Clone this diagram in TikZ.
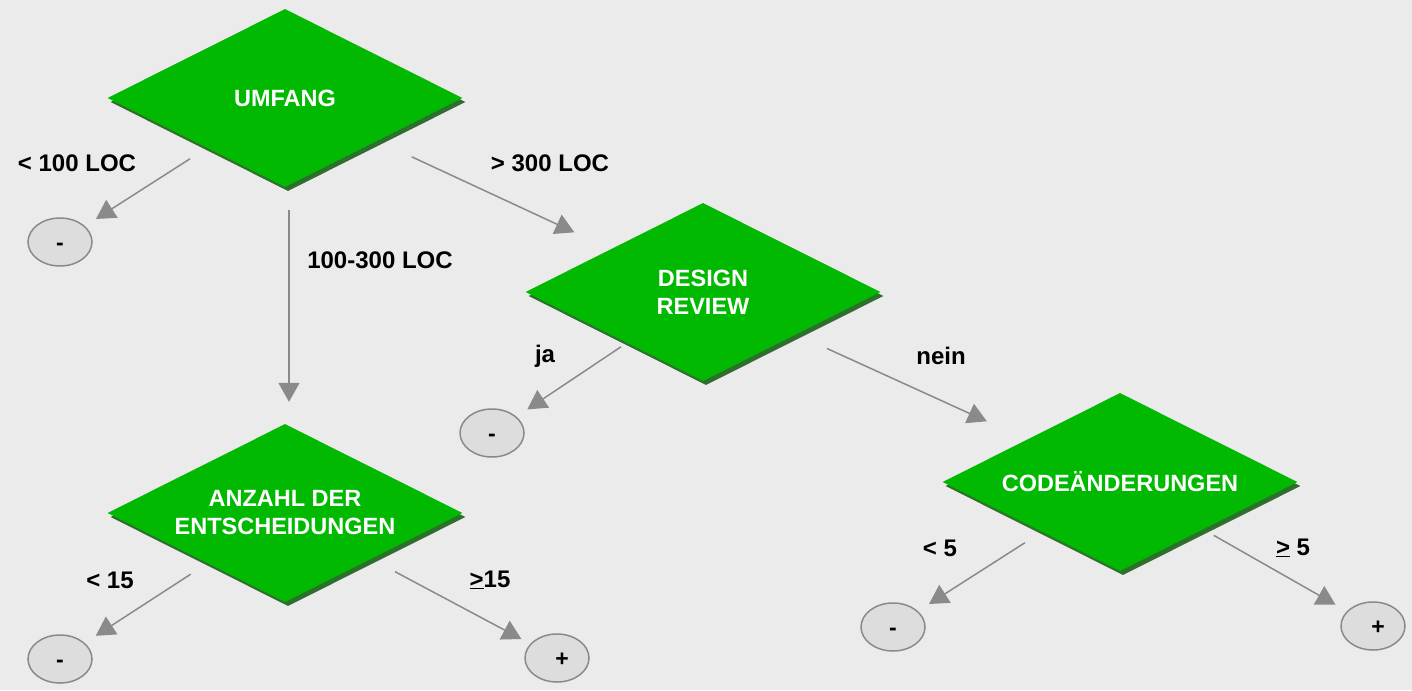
\documentclass[tikz,border=0pt]{standalone}
\usepackage{fontspec}
\setmainfont{Liberation Sans}
\usetikzlibrary{shapes.geometric,arrows.meta,shadows}
\definecolor{bggrey}{RGB}{235,235,235}
\definecolor{leafgreen}{RGB}{0,185,0}
\definecolor{darkgreen}{RGB}{45,112,45}
\definecolor{leafgrey}{RGB}{221,221,221}
\definecolor{linegrey}{RGB}{138,138,138}
\tikzset{
	green node/.style={diamond, aspect=2, fill=leafgreen, minimum width=355pt, minimum height=178pt, inner sep=0, text=white, align=center, font=\fontsize{23.5}{28}\selectfont\bfseries, drop shadow={shadow xshift=3pt, shadow yshift=-4pt, fill=darkgreen, opacity=1}},
	grey node/.style={ellipse, draw=linegrey, line width=1.5pt, fill=leafgrey, minimum width=64pt, minimum height=48pt, inner sep=0, text height=17pt, text depth=0pt, font=\fontsize{23}{28}\selectfont\bfseries},
	branch/.style={draw=linegrey, line width=1.5pt, -{Triangle[length=19pt,width=21pt]}},
	branch label/.style={font=\fontsize{24}{28}\selectfont\bfseries},
}
\begin{document}
\begin{tikzpicture}[x=1pt, y=-1pt]
  \path[fill=bggrey, use as bounding box] (0,0) rectangle (1412,690);

  % decisions
  \node[green node] (umfang) at (285,98) {UMFANG};
  \node[green node] (design) at (703,292) {DESIGN\\REVIEW};
  \node[green node] (anzahl) at (285,513) {ANZAHL DER\\ENTSCHEIDUNGEN};
  \node[green node] (code) at (1120,482) {CODE\"ANDERUNGEN};

  % leaves
  \node[grey node] (klein) at (60,242) {-};
  \node[grey node] (reviewja) at (492,433) {-};
  \node[grey node] (wenige) at (60,659) {-};
  \node[grey node] (viele) at (557,658) {\hspace*{10pt}+};
  \node[grey node] (codeklein) at (893,627) {-};
  \node[grey node] (codegross) at (1373,626) {\hspace*{10pt}+};

  % branches
  \draw[branch, shorten <=20pt, shorten >=13pt] (umfang) -- (klein);
  \draw[branch, shorten <=23pt, shorten >=22pt] ([xshift=4pt]umfang.south) -- ([xshift=4pt]anzahl.north);
  \draw[branch, shorten <=38pt, shorten >=40pt] (umfang) -- (design);
  \draw[branch, shorten <=7pt, shorten >=13pt] (design) -- (reviewja);
  \draw[branch, shorten <=34pt, shorten >=44pt] (design) -- (code);
  \draw[branch, shorten <=20pt, shorten >=13pt] (anzahl) -- (wenige);
  \draw[branch, shorten <=27pt, shorten >=10pt] (anzahl) -- (viele);
  \draw[branch, shorten <=20pt, shorten >=13pt] (code) -- (codeklein);
  \draw[branch, shorten <=12pt, shorten >=13pt] (code) -- (codegross);

  % branch labels
  \node[branch label] (l1) at (77,163) {< 100 LOC};
  \node[branch label] (l2) at (380,260) {100-300 LOC};
  \node[branch label] (l3) at (550,163) {> 300 LOC};
  \node[branch label] (l4) at (545,356) {ja};
  \node[branch label] (l5) at (941,356) {nein};
  \node[branch label] (l6) at (110,580) {< 15};
  \node[branch label] (l7) at (490,580) {\underline{>}15};
  \node[branch label] (l8) at (940,548) {< 5};
  \node[branch label] (l9) at (1293,548) {\underline{>} 5};
\end{tikzpicture}
\end{document}
